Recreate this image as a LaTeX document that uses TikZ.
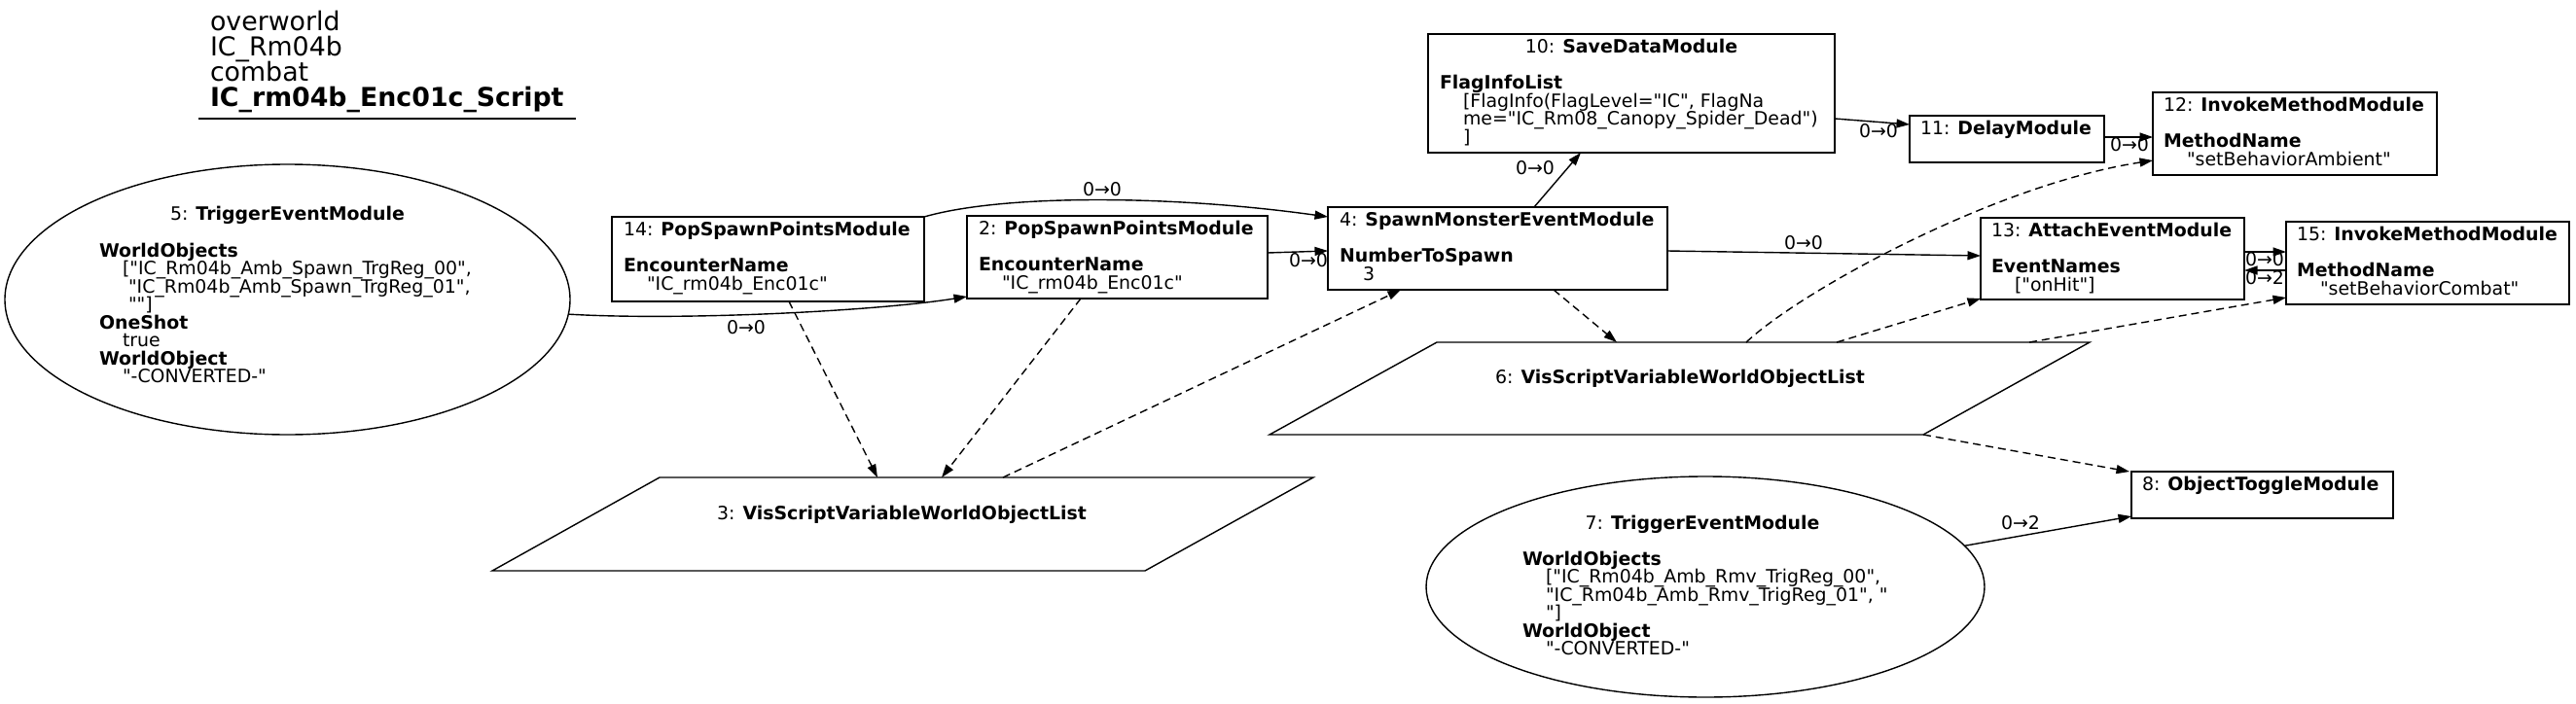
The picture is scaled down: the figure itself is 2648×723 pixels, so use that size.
\documentclass[tikz,border=0pt]{standalone}
\usepackage{fontspec}
\setmainfont{DejaVu Sans}[Ligatures=TeXOff]
\usetikzlibrary{arrows.meta,shapes.geometric}
\newcommand{\ml}[1]{\vtop{\baselineskip=18.5pt\lineskiplimit=-100pt\lineskip=0pt\relax #1}}
\newcommand{\tl}[1]{\vtop{\baselineskip=26.3pt\lineskiplimit=-100pt\lineskip=0pt\relax #1}}
\newcommand{\ind}{\hspace*{24pt}}
\tikzset{
 every node/.style={inner sep=0pt, outer sep=0pt},
 txt/.style={font=\fontsize{18.9pt}{18.5pt}\selectfont, anchor=base west},
 ctxt/.style={font=\fontsize{18.9pt}{18.5pt}\selectfont, anchor=base},
 box/.style={draw, line width=1.4pt, rectangle},
 oval/.style={draw, line width=1.4pt, ellipse},
 para/.style={line width=1.4pt},
 ghost/.style={draw=none, rectangle},
 link/.style={line width=1.4pt, -{Triangle[length=13.5pt,width=9pt]}},
 dlink/.style={link, dash pattern=on 8pt off 5pt},
 lbl/.style={font=\fontsize{18.9pt}{18.5pt}\selectfont, anchor=center},
}
\begin{document}
\begin{tikzpicture}[x=1pt,y=-1pt]
\useasboundingbox (0,0) rectangle (2648,723);
\fill[white] (0,0) rectangle (2648,723);

% title
\node[anchor=base west, font=\fontsize{26.8pt}{26.3pt}\selectfont] (title) at (216,31)
 {\tl{\hbox{overworld}\hbox{IC\_Rm04b}\hbox{combat}\hbox{\textbf{IC\_rm04b\_Enc01c\_Script}}}};
\draw[line width=1.4pt] (204,122) -- (592,122);

% shapes
\node[oval, minimum width=581pt, minimum height=278pt] (n5) at (295.5,308) {};
\node[oval, minimum width=574pt, minimum height=227pt] (n7) at (1753,603.5) {};
\node[box, minimum width=321pt, minimum height=87pt] (n14) at (789.5,266.5) {};
\node[box, minimum width=309pt, minimum height=85pt] (n2) at (1148.5,264.5) {};
\node[box, minimum width=349pt, minimum height=85pt] (n4) at (1539.5,255.5) {};
\node[box, minimum width=418pt, minimum height=122pt] (n10) at (1677,96) {};
\node[box, minimum width=200pt, minimum height=48pt] (n11) at (2063,143) {};
\node[box, minimum width=292pt, minimum height=85pt] (n12) at (2359,137.5) {};
\node[box, minimum width=271pt, minimum height=84pt] (n13) at (2171.5,266) {};
\node[box, minimum width=291pt, minimum height=85pt] (n15) at (2495.5,270.5) {};
\node[box, minimum width=269pt, minimum height=48pt] (n8) at (2325.5,509) {};
\node[ghost, minimum width=843pt, minimum height=95pt] (n6) at (1726.5,399.5) {};
\node[ghost, minimum width=844pt, minimum height=96pt] (n3) at (928,539) {};
\draw[para] ([xshift=172pt]n6.north west) -- (n6.north east) -- ([xshift=-171pt]n6.south east) -- (n6.south west) -- cycle;
\draw[para] ([xshift=172pt]n3.north west) -- (n3.north east) -- ([xshift=-173pt]n3.south east) -- (n3.south west) -- cycle;

% texts
\node[ctxt] (t5a) at (295.5,226) {5: \textbf{TriggerEventModule}};
\node[txt] (t5b) at (102,264) {\ml{\hbox{\textbf{WorldObjects}}\hbox{\ind["IC\_Rm04b\_Amb\_Spawn\_TrgReg\_00",}\hbox{\ind\ "IC\_Rm04b\_Amb\_Spawn\_TrgReg\_01",}\hbox{\ind\ ""]}\hbox{\textbf{OneShot}}\hbox{\ind true}\hbox{\textbf{WorldObject}}\hbox{\ind"-CONVERTED-"}}};
\node[txt] (t14) at (641,242.5) {\ml{\hbox{14: \textbf{PopSpawnPointsModule}}\hbox{}\hbox{\textbf{EncounterName}}\hbox{\ind"IC\_rm04b\_Enc01c"}}};
\node[txt] (t2) at (1006,241.5) {\ml{\hbox{2: \textbf{PopSpawnPointsModule}}\hbox{}\hbox{\textbf{EncounterName}}\hbox{\ind"IC\_rm04b\_Enc01c"}}};
\node[txt] (t4) at (1377,232.5) {\ml{\hbox{4: \textbf{SpawnMonsterEventModule}}\hbox{}\hbox{\textbf{NumberToSpawn}}\hbox{\ind 3}}};
\node[ctxt] (t10a) at (1677,54.5) {10: \textbf{SaveDataModule}};
\node[txt] (t10b) at (1480,91.5) {\ml{\hbox{\textbf{FlagInfoList}}\hbox{\ind[FlagInfo(FlagLevel="IC", FlagNa}\hbox{\ind me="IC\_Rm08\_Canopy\_Spider\_Dead")}\hbox{\ind]}}};
\node[txt] (t11) at (1974,138.5) {11: \textbf{DelayModule}};
\node[txt] (t12) at (2224,114.5) {\ml{\hbox{12: \textbf{InvokeMethodModule}}\hbox{}\hbox{\textbf{MethodName}}\hbox{\ind"setBehaviorAmbient"}}};
\node[txt] (t13) at (2047,243.5) {\ml{\hbox{13: \textbf{AttachEventModule}}\hbox{}\hbox{\textbf{EventNames}}\hbox{\ind["onHit"]}}};
\node[txt] (t15) at (2361,247.5) {\ml{\hbox{15: \textbf{InvokeMethodModule}}\hbox{}\hbox{\textbf{MethodName}}\hbox{\ind"setBehaviorCombat"}}};
\node[txt] (t8) at (2202,504.5) {8: \textbf{ObjectToggleModule}};
\node[ctxt] (t6) at (1727,394) {6: \textbf{VisScriptVariableWorldObjectList}};
\node[ctxt] (t3) at (927,534.5) {3: \textbf{VisScriptVariableWorldObjectList}};
\node[ctxt] (t7a) at (1750,544) {7: \textbf{TriggerEventModule}};
\node[txt] (t7b) at (1565,581) {\ml{\hbox{\textbf{WorldObjects}}\hbox{\ind["IC\_Rm04b\_Amb\_Rmv\_TrigReg\_00",}\hbox{\ind"IC\_Rm04b\_Amb\_Rmv\_TrigReg\_01", "}\hbox{\ind"]}\hbox{\textbf{WorldObject}}\hbox{\ind"-CONVERTED-"}}};

% solid connectors
\draw[link] (n5.-3.8) .. controls (700,330) and (900,320) .. ([yshift=2pt]n2.south west);
\draw[link] (n14.north east) .. controls (1030,200) and (1200,200) .. ([yshift=-10pt]n4.north west);
\draw[link] ([yshift=4.5pt]n2.east) -- ([yshift=-2.5pt]n4.west);
\draw[link] ([xshift=37.5pt]n4.north) -- ([xshift=-52pt]n10.south);
\draw[link] ([yshift=-26pt]n10.east) -- ([yshift=15pt]n11.west);
\draw[link] ([yshift=2pt]n11.east) -- ([yshift=-3.5pt]n12.west);
\draw[link] ([yshift=-2.5pt]n4.east) -- ([yshift=3pt]n13.west);
\draw[link] ([yshift=7pt]n13.east) -- ([yshift=11.5pt]n15.west);
\draw[link] ([yshift=-7.5pt]n15.west) -- ([yshift=-12pt]n13.east);
\draw[link] (n7.9.4) -- ([yshift=2pt]n8.south west);

% dashed connectors
\draw[dlink] ([xshift=21.5pt]n14.south) -- ([xshift=-26pt]n3.north);
\draw[dlink] ([xshift=-37.5pt]n2.south) -- ([xshift=40pt]n3.north);
\draw[dlink] ([xshift=103pt]n3.north) -- ([xshift=-99.5pt]n4.south);
\draw[dlink] ([xshift=57.5pt]n4.south) -- ([xshift=-64.5pt]n6.north);
\draw[dlink] ([xshift=68.5pt]n6.north) .. controls (1850,300) and (2050,190) .. ([yshift=-27.5pt]n12.west);
\draw[dlink] ([xshift=161.5pt]n6.north) -- ([yshift=1pt]n13.south west);
\draw[dlink] ([xshift=359.5pt]n6.north) -- ([yshift=-35.5pt]n15.west);
\draw[dlink] ([xshift=-171pt]n6.south east) -- ([xshift=-2pt]n8.north west);

% edge labels
\node[lbl] (l1) at (767,337) {0→0};
\node[lbl] (l2) at (1133,195) {0→0};
\node[lbl] (l3) at (1345,268) {0→0};
\node[lbl] (l4) at (1578,173) {0→0};
\node[lbl] (l5) at (1931,135) {0→0};
\node[lbl] (l6) at (2189,149) {0→0};
\node[lbl] (l7) at (1854,250) {0→0};
\node[lbl] (l8) at (2328,267) {0→0};
\node[lbl] (l9) at (2328,286) {0→2};
\node[lbl] (l10) at (2077,538) {0→2};
\end{tikzpicture}
\end{document}
